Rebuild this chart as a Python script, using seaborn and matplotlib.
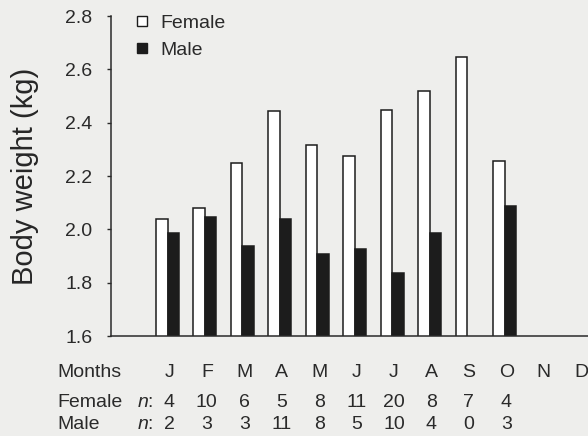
import matplotlib
matplotlib.use("Agg")
import matplotlib.pyplot as plt
import seaborn as sns
import pandas as pd
import numpy as np
from matplotlib.transforms import blended_transform_factory
from matplotlib.lines import Line2D

# ---- data ----
month_keys = ["Jan", "Feb", "Mar", "Apr", "May", "Jun", "Jul", "Aug", "Sep", "Oct", "Nov", "Dec"]
month_labels = ["J", "F", "M", "A", "M", "J", "J", "A", "S", "O", "N", "D"]
female_kg = [2.039, 2.080, 2.249, 2.444, 2.316, 2.275, 2.447, 2.519, 2.646, 2.256, np.nan, np.nan]
male_kg = [1.986, 2.046, 1.938, 2.039, 1.907, 1.926, 1.836, 1.986, np.nan, 2.087, np.nan, np.nan]
female_n = ["4", "10", "6", "5", "8", "11", "20", "8", "7", "4", "", ""]
male_n = ["2", "3", "3", "11", "8", "5", "10", "4", "0", "3", "", ""]
y_ticks = [1.6, 1.8, 2.0, 2.2, 2.4, 2.6, 2.8]
y_tick_labels = ["1.6", "1.8", "2.0", "2.2", "2.4", "2.6", "2.8"]

df = pd.DataFrame({
    "month": month_keys * 2,
    "sex": ["Female"] * 12 + ["Male"] * 12,
    "kg": female_kg + male_kg,
})

BG = "#eeeeec"
INK = "#2a2a2a"
BAR = "#1c1c1c"

sns.set_theme(style="ticks")
plt.rcParams["font.family"] = ["Liberation Sans", "DejaVu Sans"]
plt.rcParams["mathtext.fontset"] = "custom"
plt.rcParams["mathtext.it"] = "Liberation Sans:italic"
plt.rcParams["mathtext.rm"] = "Liberation Sans"
plt.rcParams["text.color"] = INK
plt.rcParams["axes.edgecolor"] = INK
plt.rcParams["xtick.color"] = INK
plt.rcParams["ytick.color"] = INK

fig = plt.figure(figsize=(5.88, 4.36), dpi=100, facecolor=BG)
ax = fig.add_axes([111 / 588, 1 - 336 / 436, 1 - 111 / 588, (336 - 16) / 436])
ax.set_facecolor(BG)

sns.barplot(data=df, x="month", y="kg", hue="sex", order=month_keys,
            hue_order=["Female", "Male"],
            palette={"Female": "white", "Male": BAR},
            edgecolor=BAR, linewidth=1.1, width=0.615, gap=0,
            errorbar=None, legend=False, ax=ax)

ax.set_ylim(1.6, 2.8)
ax.set_xlim(-1.51, 11.23)
ax.set_yticks(y_ticks)
ax.set_yticklabels(y_tick_labels, fontsize=14)
ax.tick_params(axis="y", length=3, width=1, pad=10.5, direction="out")
ax.tick_params(axis="x", length=0, labelbottom=False)
ax.set_xlabel("")
ax.set_ylabel("Body weight (kg)", fontsize=21, labelpad=19)
for s in ["top", "right"]:
    ax.spines[s].set_visible(False)
ax.spines["left"].set_linewidth(1.1)
ax.spines["bottom"].set_linewidth(1.1)

handles = [
    Line2D([], [], ls="none", marker="s", markersize=7.5, markerfacecolor="white",
           markeredgecolor=BAR, markeredgewidth=1.0),
    Line2D([], [], ls="none", marker="s", markersize=7.5, markerfacecolor=BAR,
           markeredgecolor=BAR),
]
leg = ax.legend(handles, ["Female", "Male"], loc="upper left",
                bbox_to_anchor=(134 / 588, 1 - 14 / 436), bbox_transform=fig.transFigure,
                frameon=False, fontsize=14, handlelength=0.8, handletextpad=0.55,
                labelspacing=0.48, borderpad=0, borderaxespad=0)

# ---- table below the axis ----
tr = blended_transform_factory(ax.transData, fig.transFigure)
rows_y = [1 - 377 / 436, 1 - 407 / 436, 1 - 429 / 436]
fig.text(57 / 588, rows_y[0], "Months", fontsize=14, va="baseline", ha="left")
fig.text(57 / 588, rows_y[1], "Female", fontsize=14, va="baseline", ha="left")
fig.text(57 / 588, rows_y[2], "Male", fontsize=14, va="baseline", ha="left")
fig.text(137 / 588, rows_y[1], r"$\mathit{n}$:", fontsize=14, va="baseline", ha="left")
fig.text(137 / 588, rows_y[2], r"$\mathit{n}$:", fontsize=14, va="baseline", ha="left")
for i, lab in enumerate(month_labels):
    ax.text(i + 0.05, rows_y[0], lab, transform=tr, fontsize=14, va="baseline", ha="center")
    ax.text(i + 0.05, rows_y[1], female_n[i], transform=tr, fontsize=14, va="baseline", ha="center")
    ax.text(i + 0.05, rows_y[2], male_n[i], transform=tr, fontsize=14, va="baseline", ha="center")

fig.savefig("out.png", dpi=100, facecolor=BG)
